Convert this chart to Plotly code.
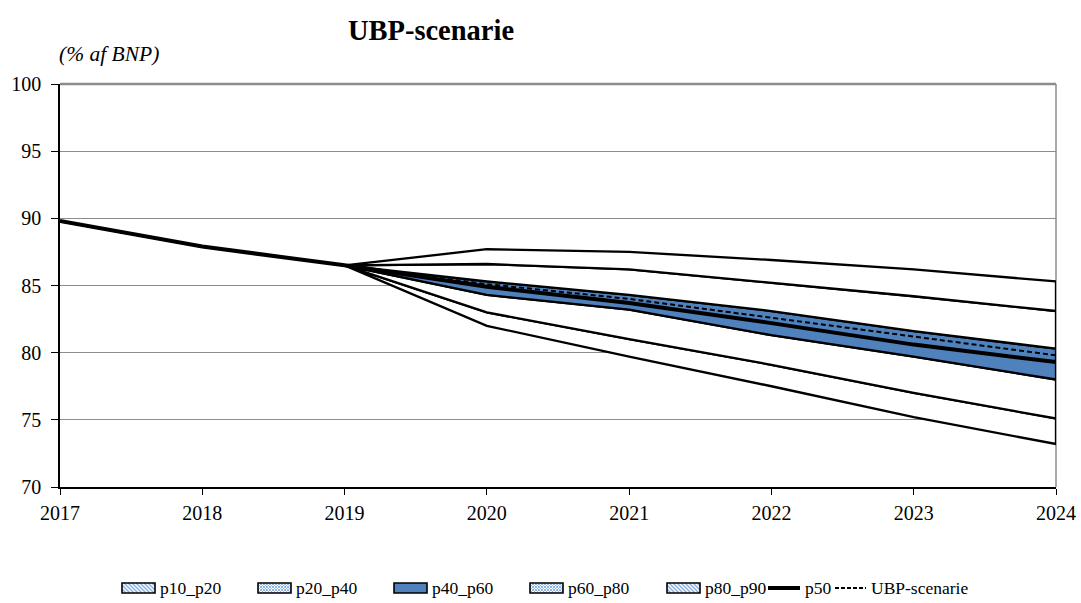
import numpy as np
import plotly.graph_objects as go

years = [2017, 2018, 2019, 2020, 2021, 2022, 2023, 2024]
p10 = [89.8, 87.9, 86.5, 82.0, 79.7, 77.5, 75.2, 73.2]
p20 = [89.8, 87.9, 86.5, 83.0, 81.0, 79.1, 77.0, 75.1]
p40 = [89.8, 87.9, 86.5, 84.3, 83.2, 81.3, 79.7, 78.0]
p50 = [89.8, 87.9, 86.5, 84.9, 83.7, 82.2, 80.6, 79.3]
p60 = [89.8, 87.9, 86.5, 85.3, 84.3, 83.1, 81.6, 80.3]
p80 = [89.8, 87.9, 86.5, 86.6, 86.2, 85.2, 84.2, 83.1]
p90 = [89.8, 87.9, 86.5, 87.7, 87.5, 86.9, 86.2, 85.3]
ubp = [89.8, 87.9, 86.5, 85.1, 84.0, 82.6, 81.2, 79.8]

band_names = ["p10_p20", "p20_p40", "p40_p60", "p60_p80", "p80_p90"]
band_low = [p10, p20, p40, p60, p80]
band_high = [p20, p40, p60, p80, p90]
band_fill = ["white", "white", "#4F81BD", "white", "white"]
band_pattern = ["stripes", "dots", "solid", "dots", "stripes"]

FONT = "Liberation Serif"
BLUE = "#4F81BD"
HATCH = "#8DB3E2"
GRID = "#8C8C8C"

W, H = 1081, 603
L, R, T, B = 60, 25, 84, 116
PW, PH = W - L - R, H - T - B


def fx(px):
    return (px - L) / PW


def fy(py):
    return (H - B - py) / PH


fig = go.Figure()

# Bands as closed polygons with black outlines
for name, lo, hi, fc in zip(band_names, band_low, band_high, band_fill):
    fig.add_trace(go.Scatter(
        x=years + years[::-1], y=lo + hi[::-1], name=name,
        fill="toself", fillcolor=fc, mode="lines",
        line=dict(color="black", width=2.3),
        showlegend=False, hoverinfo="skip"))

fig.add_trace(go.Scatter(x=years, y=p50, name="p50", mode="lines",
                         line=dict(color="black", width=4), showlegend=False))
fig.add_trace(go.Scatter(x=years, y=ubp, name="UBP-scenarie", mode="lines",
                         line=dict(color="black", width=2, dash="5px,3px"),
                         showlegend=False))

# ---------- frame + manual legend ----------
shapes = [
    dict(type="line", xref="paper", yref="paper", x0=0, x1=1, y0=1, y1=1,
         line=dict(color=GRID, width=2.5), layer="below"),
    dict(type="line", xref="paper", yref="paper", x0=1, x1=1, y0=0, y1=1,
         line=dict(color=GRID, width=1.5), layer="below"),
]
annotations = [dict(text="<i>(% af BNP)</i>", xref="paper", yref="paper",
                    x=fx(109), y=fy(54), xanchor="center", yanchor="middle",
                    showarrow=False, font=dict(family=FONT, size=21.5))]


def hatch_path(x0, y0, w, h, step, direction):
    parts = []
    for s in np.arange(-h, w, step):
        t0, t1 = max(0, -s), min(h, w - s)
        if t1 <= t0:
            continue
        if direction == "\\":
            a = (x0 + s + t0, y0 + t0)
            b = (x0 + s + t1, y0 + t1)
        else:
            a = (x0 + w - (s + t0), y0 + t0)
            b = (x0 + w - (s + t1), y0 + t1)
        parts.append(f"M{fx(a[0]):.5f},{fy(a[1]):.5f}L{fx(b[0]):.5f},{fy(b[1]):.5f}")
    return "".join(parts)


LEG_Y = 588
icon_x = [122, 258, 394, 530, 667]
IW, IH = 33, 10
for name, kind, ix in zip(band_names, band_pattern, icon_x):
    y0 = LEG_Y - IH / 2
    fill = BLUE if kind == "solid" else "white"
    shapes.append(dict(type="rect", xref="paper", yref="paper",
                       x0=fx(ix), x1=fx(ix + IW), y0=fy(y0), y1=fy(y0 + IH),
                       fillcolor=fill, line=dict(width=0), layer="above"))
    if kind == "stripes":
        shapes.append(dict(type="path", xref="paper", yref="paper",
                           path=hatch_path(ix, y0, IW, IH, 4, "\\"),
                           line=dict(color=HATCH, width=1.6), layer="above"))
    elif kind == "dots":
        for d in ("\\", "/"):
            shapes.append(dict(type="path", xref="paper", yref="paper",
                               path=hatch_path(ix, y0, IW, IH, 3, d),
                               line=dict(color=HATCH, width=1), layer="above"))
    shapes.append(dict(type="rect", xref="paper", yref="paper",
                       x0=fx(ix), x1=fx(ix + IW), y0=fy(y0), y1=fy(y0 + IH),
                       fillcolor="rgba(0,0,0,0)", line=dict(color="black", width=1.6),
                       layer="above"))
    annotations.append(dict(text=name, xref="paper", yref="paper",
                            x=fx(ix + IW + 3), y=fy(LEG_Y), xanchor="left",
                            yanchor="middle", showarrow=False,
                            font=dict(family=FONT, size=17.5)))

line_items = [("p50", 768, 800, 4, "solid"), ("UBP-scenarie", 835, 866, 2, "4px,2px")]
for name, a, b, w, dash in line_items:
    shapes.append(dict(type="line", xref="paper", yref="paper",
                       x0=fx(a), x1=fx(b), y0=fy(LEG_Y), y1=fy(LEG_Y),
                       line=dict(color="black", width=w, dash=dash), layer="above"))
    annotations.append(dict(text=name, xref="paper", yref="paper",
                            x=fx(b + 3), y=fy(LEG_Y), xanchor="left",
                            yanchor="middle", showarrow=False,
                            font=dict(family=FONT, size=17.5)))

fig.update_layout(
    width=W, height=H,
    paper_bgcolor="white", plot_bgcolor="white",
    margin=dict(l=L, r=R, t=T, b=B),
    font=dict(family=FONT, size=20, color="black"),
    title=dict(text="<b>UBP-scenarie</b>", xref="container", yref="container",
               x=431 / W, xanchor="center", y=1 - 30 / H, yanchor="middle",
               font=dict(family=FONT, size=28.5)),
    showlegend=False,
    annotations=annotations,
    shapes=shapes,
)
fig.update_xaxes(range=[2017, 2024], tickmode="array", tickvals=years,
                 ticktext=[str(y) for y in years], automargin=False,
                 showgrid=False, zeroline=False, showline=True, linecolor="black",
                 linewidth=1.5, ticks="outside", ticklen=6, tickcolor="black",
                 ticklabelstandoff=1,
                 tickfont=dict(family=FONT, size=20))
fig.update_yaxes(range=[70, 100], tickvals=[70, 75, 80, 85, 90, 95, 100],
                 automargin=False,
                 showgrid=True, gridcolor=GRID, gridwidth=1.2, zeroline=False,
                 showline=True, linecolor="black", linewidth=1.5,
                 ticks="outside", ticklen=7, tickcolor="black",
                 ticklabelstandoff=6,
                 tickfont=dict(family=FONT, size=20))

fig.write_html("out.html", config={"displayModeBar": False},
               post_script="document.body.style.margin='0';document.body.style.overflow='hidden';")
